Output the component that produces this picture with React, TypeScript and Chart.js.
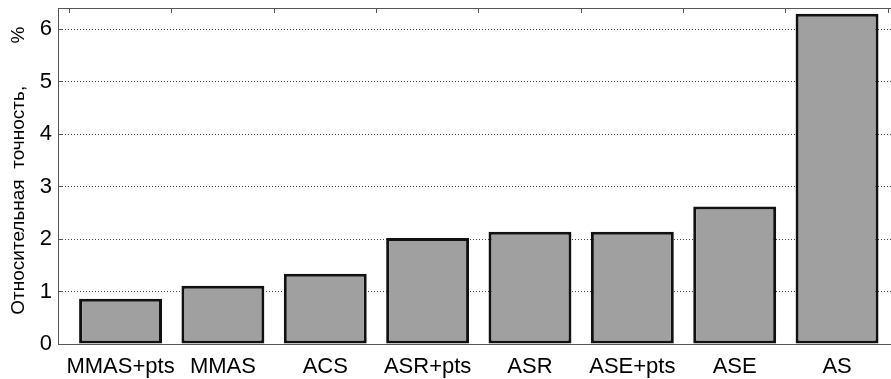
import { useEffect, useRef } from "react";
import { Chart, registerables } from "chart.js";

Chart.register(...registerables);

// Algorithms and their relative accuracy, %
const categories = ["MMAS+pts", "MMAS", "ACS", "ASR+pts", "ASR", "ASE+pts", "ASE", "AS"];
const accuracy = [0.86, 1.11, 1.34, 2.02, 2.14, 2.14, 2.62, 6.29];

const yTicks = [0, 1, 2, 3, 4, 5, 6];
const yMin = 0;
const yMax = 6.4;
const xMin = 0.389;
const xMax = 8.527;

const yTitle = "  Относительная  точность,        %";

const FONT = "'Liberation Sans', Arial, Helvetica, sans-serif";
const AXIS = "#555";

const categoryTicks = () => categories.map((_, i) => ({ value: i + 1 }));

// Fixed axis sizes, so the plot box does not move with label overhangs
const fixBox = (size: { width?: number; height?: number }) => (s: any) => {
  if (size.width !== undefined) s.width = size.width;
  if (size.height !== undefined) s.height = size.height;
  s.paddingTop = 0;
  s.paddingBottom = 0;
  s.paddingLeft = 0;
  s.paddingRight = 0;
};

export default function App() {
  const canvasRef = useRef<HTMLCanvasElement | null>(null);

  useEffect(() => {
    const canvas = canvasRef.current;
    if (!canvas) return;

    const chart = new Chart(canvas, {
      type: "bar",
      data: {
        datasets: [
          {
            data: categories.map((_, i) => ({ x: i + 1, y: accuracy[i] })),
            backgroundColor: "#a0a0a0",
            borderColor: "#111",
            borderWidth: 3,
            borderSkipped: false,
            barPercentage: 0.81,
            categoryPercentage: 1,
          },
        ],
      },
      options: {
        animation: false,
        responsive: false,
        devicePixelRatio: 1,
        layout: { padding: 0 },
        plugins: {
          legend: { display: false },
          tooltip: { enabled: false },
        },
        scales: {
          x: {
            type: "linear",
            position: "bottom",
            min: xMin,
            max: xMax,
            offset: false,
            bounds: "data",
            afterBuildTicks: (s: any) => {
              s.ticks = categoryTicks();
            },
            afterFit: fixBox({ height: 35 }),
            grid: { display: false },
            border: { color: AXIS, width: 1 },
            ticks: {
              autoSkip: false,
              maxRotation: 0,
              padding: 2,
              color: "#000",
              font: { size: 22, family: FONT },
              callback: (v: any) => categories[Number(v) - 1] ?? "",
            },
          },
          xTop: {
            type: "linear",
            position: "top",
            min: xMin,
            max: xMax,
            offset: false,
            bounds: "data",
            afterBuildTicks: (s: any) => {
              s.ticks = categoryTicks();
            },
            afterFit: fixBox({ height: 8 }),
            ticks: { display: false },
            grid: {
              drawOnChartArea: false,
              drawTicks: true,
              tickLength: -5,
              tickColor: AXIS,
              tickWidth: 1,
            },
            border: { color: AXIS, width: 1 },
          },
          y: {
            min: yMin,
            max: yMax,
            afterBuildTicks: (s: any) => {
              s.ticks = yTicks.map((v) => ({ value: v }));
            },
            afterFit: fixBox({ width: 58 }),
            grid: {
              color: (ctx: any) =>
                ctx.tick && ctx.tick.value === 0 ? "rgba(0,0,0,0)" : "#444",
              lineWidth: 1,
              drawTicks: true,
              tickLength: -5,
              tickColor: AXIS,
              tickWidth: 1,
              tickBorderDash: [],
            },
            border: { color: AXIS, width: 1, dash: [1, 2] },
            ticks: {
              padding: 11,
              color: "#000",
              font: { size: 22, family: FONT },
            },
            title: {
              display: true,
              text: yTitle,
              color: "#000",
              font: { size: 19, family: FONT },
              padding: { top: 7.6, bottom: 0 },
            },
          },
        },
      } as any,
    });

    return () => chart.destroy();
  }, []);

  return (
    <canvas
      ref={canvasRef}
      width={891}
      height={379}
      style={{ position: "absolute", left: 0, top: 0, width: 891, height: 379, display: "block" }}
    />
  );
}
